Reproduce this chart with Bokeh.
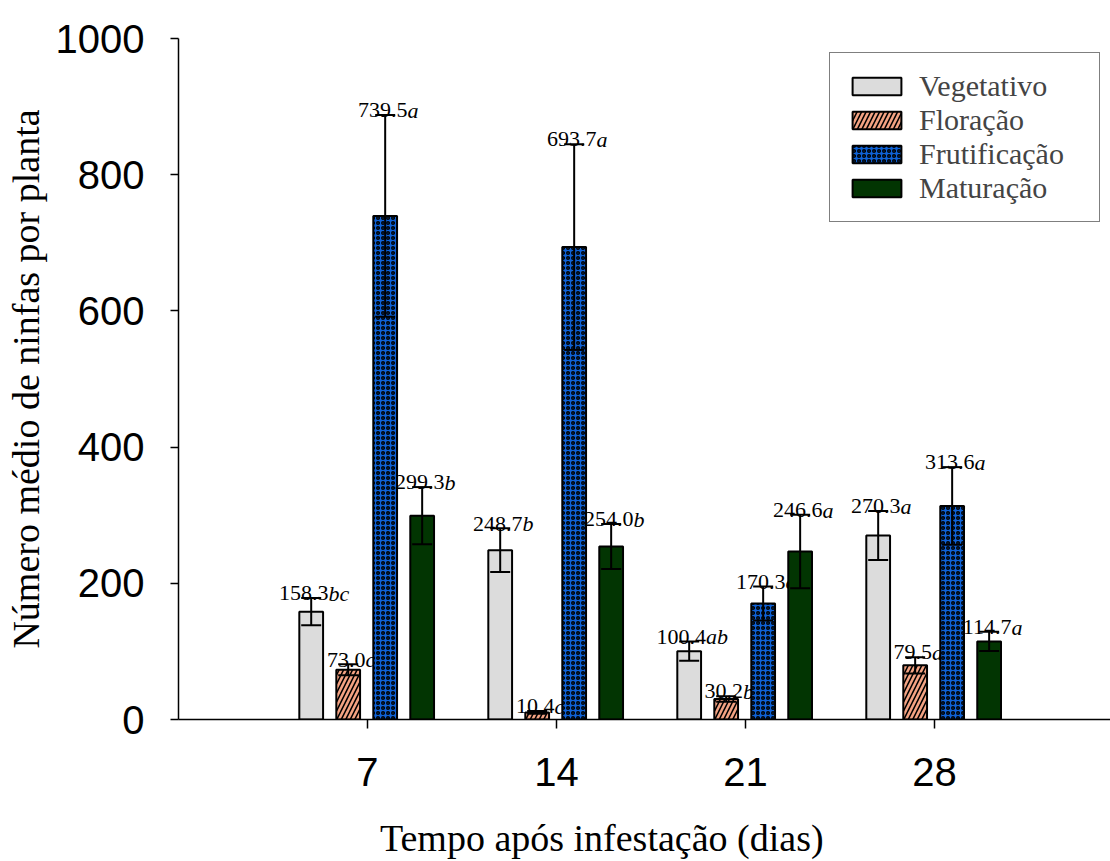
from bokeh.plotting import figure
from bokeh.models import (ColumnDataSource, Whisker, TeeHead, Legend, LegendItem,
                          FixedTicker)
from bokeh.core.properties import value
from bokeh.embed import file_html
from bokeh.resources import INLINE

# ---- data ----
days = [7, 14, 21, 28]
stages = ["Vegetativo", "Floração", "Frutificação", "Maturação"]
veg = [158.3, 248.7, 100.4, 270.3]
flo = [73.0, 10.4, 30.2, 79.5]
fru = [739.5, 693.7, 170.3, 313.6]
mat = [299.3, 254.0, 246.6, 114.7]
err_veg = [20, 32, 14, 36]
err_flo = [8, 2, 4, 12]
err_fru = [148, 151, 25, 57]
err_mat = [42, 33, 54, 14]
let_veg = ["bc", "b", "ab", "a"]
let_flo = ["c", "c", "b", "a"]
let_fru = ["a", "a", "a", "a"]
let_mat = ["b", "b", "a", "a"]
y_ticks = [0, 200, 400, 600, 800, 1000]
x_title = "Tempo após infestação (dias)"
y_title = "Número médio de ninfas por planta"

series = [
    (stages[0], veg, err_veg, let_veg, dict(fill_color="#DCDCDC")),
    (stages[1], flo, err_flo, let_flo, dict(fill_color="#F4A383", hatch_pattern="right_diagonal_line",
                                            hatch_color="black", hatch_scale=9, hatch_weight=1.6)),
    (stages[2], fru, err_fru, let_fru, dict(fill_color="#0F62D6", hatch_pattern="ring",
                                            hatch_color="black", hatch_scale=5, hatch_weight=1.5)),
    (stages[3], mat, err_mat, let_mat, dict(fill_color="#023502")),
]

spacing = 1.37
bar_w = 0.88
LBL_FS = 22
LBL_GAP = 7  # data units above the error cap (about 5 px)

p = figure(width=1110, height=861, x_range=(0, 34.52), y_range=(0, 1000),
           output_backend="svg", toolbar_location=None,
           min_border_left=178, min_border_right=0, min_border_top=38, min_border_bottom=141)
p.outline_line_color = None
p.grid.grid_line_color = None
p.background_fill_color = "white"

items = []
for i, (name, vals, errs, lets, style) in enumerate(series):
    off = (i - 1.5) * spacing - 0.03
    xs = [d + off for d in days]
    nums = ["%.1f" % v for v in vals]
    num_w = [sum(0.25 if ch == "." else 0.5 for ch in s) * LBL_FS for s in nums]
    let_w = [sum(0.45 if ch == "c" else 0.5 for ch in s) * LBL_FS for s in lets]
    xo = [(a - b) / 2 + 3 for a, b in zip(num_w, let_w)]
    upper = [v + e for v, e in zip(vals, errs)]
    src = ColumnDataSource(dict(x=xs, top=vals, upper=upper,
                                lower=[v - e for v, e in zip(vals, errs)],
                                ly=[u + LBL_GAP for u in upper],
                                num=nums, let=lets, xo=xo))
    r = p.vbar(x="x", top="top", width=bar_w, source=src, line_color="black", line_width=2, **style)
    items.append(LegendItem(label=name, renderers=[r]))
    w = Whisker(base="x", upper="upper", lower="lower", source=src, level="overlay",
                line_color="black", line_width=2,
                upper_head=TeeHead(size=20, line_width=2, line_color="black"),
                lower_head=TeeHead(size=20, line_width=2, line_color="black"))
    p.add_layout(w)
    p.text(x="x", y="ly", text="num", source=src, x_offset="xo", text_align="right",
           text_baseline="alphabetic", text_font=value("Liberation Serif"),
           text_font_size="%dpx" % LBL_FS, text_color="black")
    p.text(x="x", y="ly", text="let", source=src, x_offset="xo", text_align="left",
           text_baseline="alphabetic", text_font=value("Liberation Serif"), text_font_style="italic",
           text_font_size="%dpx" % LBL_FS, text_color="black")

legend = Legend(items=items, location=(651, 497), margin=0, padding=16, spacing=0,
                glyph_width=61, glyph_height=22, label_height=22, label_width=164,
                label_standoff=12, label_text_font="Liberation Serif", label_text_font_size="30px",
                border_line_color="black", border_line_width=1.5, background_fill_alpha=1)
p.add_layout(legend)

# axes
p.xaxis.ticker = FixedTicker(ticks=days)
p.yaxis.ticker = FixedTicker(ticks=y_ticks)
for ax in (p.xaxis, p.yaxis):
    ax.axis_line_color = "black"
    ax.axis_line_width = 1.5
    ax.major_tick_line_color = "black"
    ax.major_tick_line_width = 1.5
    ax.major_tick_in = 0
    ax.minor_tick_line_color = None
    ax.major_label_text_font = "Liberation Sans"
    ax.major_label_text_font_size = "40px"
    ax.major_label_text_color = "black"
    ax.axis_label_text_font = "Liberation Serif"
    ax.axis_label_text_font_size = "38px"
    ax.axis_label_text_font_style = "normal"
    ax.axis_label_text_color = "black"
p.xaxis.major_tick_out = 9
p.yaxis.major_tick_out = 8
p.xaxis.major_label_standoff = 29
p.yaxis.major_label_standoff = 26
p.yaxis.axis_label = y_title
p.yaxis.axis_label_standoff = 6
# the title sits left of the frame centre in the original: pad its end with no-break spaces
p.xaxis.axis_label = x_title + "\u00a0" * 9
p.xaxis.axis_label_standoff = 28

open("out.html", "w").write(file_html(p, INLINE))
